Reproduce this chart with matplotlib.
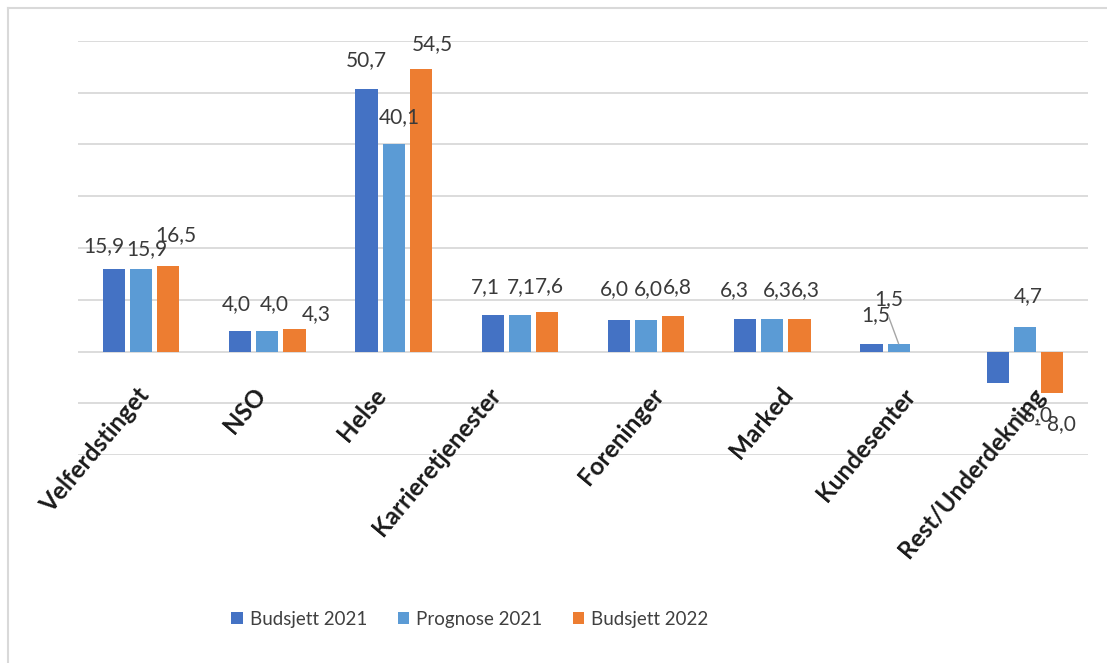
import matplotlib
matplotlib.use('Agg')
import matplotlib.pyplot as plt
import numpy as np
from matplotlib.lines import Line2D
from matplotlib.patches import Patch

categories = ["Velferdstinget", "NSO", "Helse", "Karrieretjenester",
              "Foreninger", "Marked", "Kundesenter", "Rest/Underdekning"]
series_names = ["Budsjett 2021", "Prognose 2021", "Budsjett 2022"]
budsjett_2021 = [15.9, 4.0, 50.7, 7.1, 6.0, 6.3, 1.5, -6.0]
prognose_2021 = [15.9, 4.0, 40.1, 7.1, 6.0, 6.3, 1.5, 4.7]
budsjett_2022 = [16.5, 4.3, 54.5, 7.6, 6.8, 6.3, np.nan, -8.0]
yticks = list(range(-20, 61, 10))

colors = ["#4472C4", "#5B9BD5", "#ED7D31"]
series = [budsjett_2021, prognose_2021, budsjett_2022]

# label offsets (pixels) from bar end, per series, per category
offsets = [
    [(-10, 23), (-4, 27), (0, 29), (-7, 28), (-5, 31), (-11, 29), (4, 29), (33, -33)],
    [(6, 20), (7, 27), (6, 27), (1, 28), (2, 31), (5, 29), (-10, 45), (3, 31)],
    [(8, 31), (22, 15), (12, 25), (2, 26), (4, 29), (6, 29), (0, 0), (3, -31)],
]
# horizontal shift (pixels) of each category label's end from the group centre
cat_dx = [-5, -15, -21, -32, 4, 7, 3, 7]

FONT = ["Lato", "DejaVu Sans"]
plt.rcParams['font.family'] = FONT

W, H = 1107, 663
fig = plt.figure(figsize=(W / 100, H / 100), dpi=100)
ax = fig.add_axes([78 / W, 1 - 455 / H, (1088 - 78) / W, (455 - 41) / H])

x = np.arange(len(categories))
pitch = 0.214
bw = 0.176

def fmt(v):
    s = f"{abs(v):.1f}".replace('.', ',')
    return "- " + s if v < 0 else s

for k, (vals, col) in enumerate(zip(series, colors)):
    xs = x + (k - 1) * pitch
    v = np.array(vals, dtype=float)
    ax.bar(xs, np.nan_to_num(v), width=bw, color=col, zorder=3)
    for i, val in enumerate(v):
        if np.isnan(val):
            continue
        dx, dy = offsets[k][i]
        kw = {}
        if k == 1 and i == 6:
            kw = dict(arrowprops=dict(arrowstyle='-', color='#A6A6A6', lw=1,
                                      shrinkA=0, shrinkB=0, relpos=(0.5, -0.4)))
        ax.annotate(fmt(val), xy=(xs[i], val), xytext=(dx, dy),
                    textcoords='offset pixels', ha='center', va='center',
                    fontsize=15, color='#3A3A3A', zorder=5, **kw)

ax.set_xlim(-0.5, len(categories) - 0.5)
ax.set_ylim(yticks[0], yticks[-1])
ax.set_yticks(yticks)
ax.yaxis.grid(True, color='#D9D9D9', lw=1.3, zorder=0)
ax.tick_params(axis='y', length=0, labelleft=False)
ax.tick_params(axis='x', length=0, labelbottom=False)
for s in ax.spines.values():
    s.set_visible(False)

# category labels anchored near the zero line
for i, c in enumerate(categories):
    ax.annotate(c, xy=(x[i], 0), xytext=(cat_dx[i], -32), textcoords='offset pixels',
                rotation=50, rotation_mode='anchor', ha='right', va='top',
                fontsize=17.5, color='#1A1A1A', fontweight='bold', zorder=6)

handles = [Patch(facecolor=c, edgecolor='none') for c in colors]
fig.legend(handles, series_names, loc='center', bbox_to_anchor=(470 / W, 1 - 619 / H),
           ncol=3, frameon=False, fontsize=13.5, handlelength=0.6, handleheight=0.6,
           handletextpad=0.4, columnspacing=1.6, labelcolor='#404040')

# outer chart frame (partially visible)
fig.add_artist(Line2D([7.5 / W, 7.5 / W], [0, 1 - 8 / H], transform=fig.transFigure,
                      color='#D9D9D9', lw=1.5))
fig.add_artist(Line2D([7.5 / W, 1], [1 - 8 / H, 1 - 8 / H], transform=fig.transFigure,
                      color='#D9D9D9', lw=1.5))

fig.savefig("out.png", dpi=100)
